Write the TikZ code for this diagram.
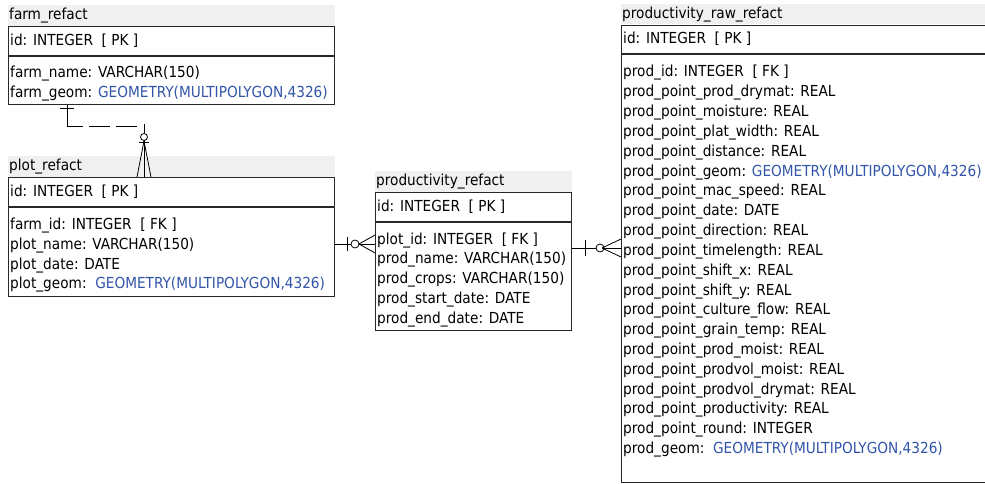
\documentclass[tikz,border=0pt]{standalone}
\usepackage{fontspec}
\setmainfont{DejaVu Sans Condensed}
\definecolor{geomblue}{RGB}{50,85,170}
\definecolor{bandgray}{RGB}{240,240,240}
\definecolor{edgegray}{RGB}{40,40,40}
\tikzset{
  tbox/.style={draw=edgegray, line width=1.1pt, fill=white, inner sep=0pt, anchor=north west},
  tband/.style={fill=bandgray, inner sep=0pt, anchor=north west},
  txt/.style={anchor=west, inner sep=0pt, font=\fontsize{15.2}{17}\selectfont},
  ttl/.style={anchor=west, inner sep=0pt, font=\fontsize{15.2}{17}\selectfont},
  divider/.style={draw=edgegray, line width=1.1pt},
  rel/.style={draw=black, line width=0.8pt}
}
\newcommand{\geo}{\textcolor{geomblue}{GEOMETRY(MULTIPOLYGON,4326)}}
\begin{document}
\begin{tikzpicture}[x=1pt,y=-1pt]
\useasboundingbox (0,0) rectangle (985,484);
\clip (0,0) rectangle (985,484);
\fill[white] (0,0) rectangle (985,484);

% ---------- farm_refact ----------
\node[tband, minimum width=327pt, minimum height=21pt] (farmT) at (8,5) {};
\node[ttl] (farmTt) at (9,15.5) {farm\_refact};
\node[tbox, minimum width=326pt, minimum height=78pt] (farm) at (8,26) {};
\draw[divider] (farm.west |- 0,56) -- (farm.east |- 0,56);
\node[txt] (farm1) at (10,41) {id: INTEGER~~[ PK ]};
\node[txt] (farm2) at (10,73.5) {farm\_name: VARCHAR(150)};
\node[txt] (farm3) at (10,93.5) {farm\_geom: \geo};

% ---------- plot_refact ----------
\node[tband, minimum width=327pt, minimum height=21pt] (plotT) at (8,156) {};
\node[ttl] (plotTt) at (9,166.5) {plot\_refact};
\node[tbox, minimum width=326pt, minimum height=119pt] (plot) at (8,177) {};
\draw[divider] (plot.west |- 0,207) -- (plot.east |- 0,207);
\node[txt] (plot1) at (10,191.5) {id: INTEGER~~[ PK ]};
\node[txt] (plot2) at (10,226) {farm\_id: INTEGER~~[ FK ]};
\node[txt] (plot3) at (10,245.5) {plot\_name: VARCHAR(150)};
\node[txt] (plot4) at (10,265.5) {plot\_date: DATE};
\node[txt] (plot5) at (10,285) {plot\_geom:~~\geo};

% ---------- productivity_refact ----------
\node[tband, minimum width=197pt, minimum height=21pt] (prodT) at (375,171) {};
\node[ttl] (prodTt) at (376,181.5) {productivity\_refact};
\node[tbox, minimum width=196pt, minimum height=138pt] (prod) at (375,192) {};
\draw[divider] (prod.west |- 0,222) -- (prod.east |- 0,222);
\node[txt] (prod1) at (377,206.5) {id: INTEGER~~[ PK ]};
\node[txt] (prod2) at (377,240.5) {plot\_id: INTEGER~~[ FK ]};
\node[txt] (prod3) at (377,260) {prod\_name: VARCHAR(150)};
\node[txt] (prod4) at (377,280) {prod\_crops: VARCHAR(150)};
\node[txt] (prod5) at (377,299.5) {prod\_start\_date: DATE};
\node[txt] (prod6) at (377,319.5) {prod\_end\_date: DATE};

% ---------- productivity_raw_refact ----------
\node[tband, minimum width=380pt, minimum height=20pt] (rawT) at (621,4) {};
\node[ttl] (rawTt) at (622,14.5) {productivity\_raw\_refact};
\node[tbox, minimum width=380pt, minimum height=457pt] (raw) at (621,25) {};
\draw[divider] (raw.west |- 0,54) -- (raw.east |- 0,54);
\node[txt] (raw0) at (623,39) {id: INTEGER~~[ PK ]};
\node[txt] (raw1) at (623,73) {prod\_id: INTEGER~~[ FK ]};
\node[txt] (raw2) at (623,92.8) {prod\_point\_prod\_drymat: REAL};
\node[txt] (raw3) at (623,112.6) {prod\_point\_moisture: REAL};
\node[txt] (raw4) at (623,132.5) {prod\_point\_plat\_width: REAL};
\node[txt] (raw5) at (623,152.3) {prod\_point\_distance: REAL};
\node[txt] (raw6) at (623,172.1) {prod\_point\_geom: \geo};
\node[txt] (raw7) at (623,191.9) {prod\_point\_mac\_speed: REAL};
\node[txt] (raw8) at (623,211.8) {prod\_point\_date: DATE};
\node[txt] (raw9) at (623,231.6) {prod\_point\_direction: REAL};
\node[txt] (raw10) at (623,251.4) {prod\_point\_timelength: REAL};
\node[txt] (raw11) at (623,271.2) {prod\_point\_shift\_x: REAL};
\node[txt] (raw12) at (623,291.1) {prod\_point\_shift\_y: REAL};
\node[txt] (raw13) at (623,310.9) {prod\_point\_culture\_flow: REAL};
\node[txt] (raw14) at (623,330.7) {prod\_point\_grain\_temp: REAL};
\node[txt] (raw15) at (623,350.5) {prod\_point\_prod\_moist: REAL};
\node[txt] (raw16) at (623,370.4) {prod\_point\_prodvol\_moist: REAL};
\node[txt] (raw17) at (623,390.2) {prod\_point\_prodvol\_drymat: REAL};
\node[txt] (raw18) at (623,410) {prod\_point\_productivity: REAL};
\node[txt] (raw19) at (623,429.8) {prod\_point\_round: INTEGER};
\node[txt] (raw20) at (623,449.7) {prod\_geom:~~\geo};

% ---------- farm -> plot (dashed, one to zero-or-many) ----------
\coordinate (f1) at (farm.south -| 67,0);
\coordinate (p1) at (plot.north -| 144,0);
\draw[rel] ([xshift=-7pt,yshift=-3pt]f1) -- ([xshift=7pt,yshift=-3pt]f1);
\draw[rel] (f1) -- (f1 |- 0,126) -- (83,126);
\draw[rel] (89,126) -- (110,126);
\draw[rel] (116,126) -- (137,126);
\draw[rel] (p1 |- 0,124) -- (p1 |- 0,133.5);
\draw[rel] (p1 |- 0,137) circle[radius=3.5pt];
\draw[rel] (p1 |- 0,140.5) -- (p1);
\draw[rel] ([xshift=-5pt]p1 |- 0,142) -- ([xshift=5pt]p1 |- 0,142);
\draw[rel] (p1 |- 0,141) -- ([xshift=-7pt]p1);
\draw[rel] (p1 |- 0,141) -- ([xshift=7pt]p1);

% ---------- plot -> productivity ----------
\coordinate (a1) at (plot.east |- 0,244);
\coordinate (a2) at (prod.west |- 0,244);
\draw[rel] (a1) -- (351,244);
\draw[rel] (347,237) -- (347,251);
\draw[rel] (355,244) circle[radius=4pt];
\draw[rel] (359,244) -- (a2);
\draw[rel] (359,244) -- ([yshift=-9pt]a2);
\draw[rel] (359,244) -- ([yshift=9pt]a2);

% ---------- productivity -> raw ----------
\coordinate (b1) at (prod.east |- 0,248);
\coordinate (b2) at (raw.west |- 0,248);
\draw[rel] (b1) -- (596,248);
\draw[rel] (585,240) -- (585,256);
\draw[rel] (600,248) circle[radius=4pt];
\draw[rel] (604,248) -- (b2);
\draw[rel] (602,248) -- ([yshift=-9pt]b2);
\draw[rel] (602,248) -- ([yshift=9pt]b2);
\end{tikzpicture}
\end{document}
